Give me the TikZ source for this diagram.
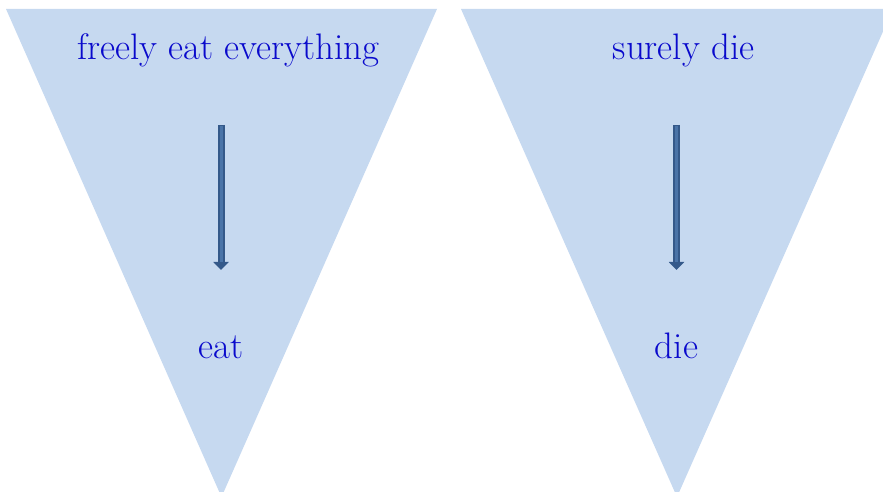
\documentclass[tikz,border=0pt]{standalone}
\usepackage{tikz}
\usepackage{xcolor}
\usetikzlibrary{arrows.meta}
\definecolor{funnel}{HTML}{C6D9F0}
\definecolor{ink}{HTML}{0A0ACC}
\definecolor{shaft}{HTML}{34598A}
\definecolor{shaftin}{HTML}{4A74A8}

\begin{document}
\begin{tikzpicture}[x=0.02cm, y=-0.02cm,
    every node/.style={font=\fontsize{21}{24}\selectfont, text=ink, inner sep=0pt},
    funnelshape/.style={fill=funnel, draw=none},
    flowarrow/.style={draw=shaft, line width=7*0.02cm, -{Triangle[width=15*0.02cm, length=8*0.02cm]}},
    flowinner/.style={draw=shaftin, line width=3*0.02cm, shorten >=8*0.02cm}]
    \useasboundingbox (0,0) rectangle (883,492);
    \clip (0,0) rectangle (883,492);
    % the two funnels
    \fill[funnelshape] (6,9) -- (437,9) -- (221.5,497) -- cycle;
    \fill[funnelshape] (461,9) -- (893,9) -- (677,497) -- cycle;
    % texts
    \node[anchor=base] (topL) at (228.5,60) {freely eat everything};
    \node[anchor=base] (botL) at (221,359) {eat};
    \node[anchor=base] (topR) at (683.5,60) {surely die};
    \node[anchor=base] (botR) at (676.5,359) {die};
    % arrows
    \coordinate (srcL) at (221,125); \coordinate (tipL) at (221,270);
    \coordinate (srcR) at (676.5,125); \coordinate (tipR) at (676.5,270);
    \draw[flowarrow] (srcL) -- (tipL); \draw[flowinner] (srcL) ++(0,1) -- (tipL);
    \draw[flowarrow] (srcR) -- (tipR); \draw[flowinner] (srcR) ++(0,1) -- (tipR);
\end{tikzpicture}
\end{document}
